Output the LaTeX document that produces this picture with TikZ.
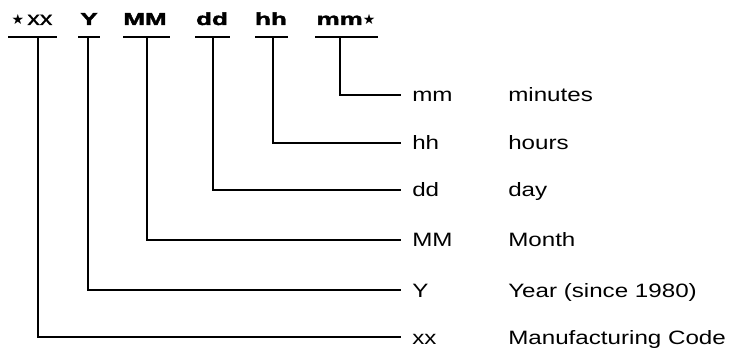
\documentclass[tikz,border=0pt]{standalone}
\usepackage{fontspec}
\setmainfont{Liberation Sans}[FakeStretch=1.25]
\newfontfamily\hdrfont{Liberation Sans}[FakeStretch=1.5,FakeBold=2.6,BoldFont={* Bold}]
\newfontfamily\xxfont{Liberation Sans}[FakeStretch=1.3,FakeBold=1.2]
\newfontfamily\symfont{DejaVu Sans}
\newcommand{\hstar}{{\symfont\fontsize{10.5}{12}\selectfont ★}}
\begin{document}
\begin{tikzpicture}[x=0.75pt,y=-0.75pt,
  ln/.style={line width=1.4pt},
  hdr/.style={font=\hdrfont\fontsize{13}{14}\selectfont\bfseries, inner sep=0pt, anchor=base},
  code/.style={font=\fontsize{14.5}{16}\selectfont, anchor=west, inner xsep=8.25pt, inner ysep=0pt, text height=10.5pt, text depth=0pt},
  desc/.style={font=\fontsize{14.5}{16}\selectfont, anchor=west, inner sep=0pt, text height=10.5pt, text depth=0pt}]
\useasboundingbox (0,0) rectangle (734,352);
% header labels
\node[inner sep=0pt, anchor=base, font=\xxfont\fontsize{14.5}{16}\selectfont] (t1) at (32,25) {\hstar\,xx};
\node[hdr] (t2) at (89,25) {Y};
\node[hdr] (t3) at (145,25) {MM};
\node[hdr] (t4) at (212,25) {dd};
\node[hdr] (t5) at (271,25) {hh};
\node[hdr] (t6) at (346,25) {mm{\mdseries\hstar}};
% underlines
\coordinate (a1) at (8,37);   \coordinate (b1) at (57,37);  \coordinate (v1) at (38,37);
\coordinate (a2) at (78,37);  \coordinate (b2) at (100,37); \coordinate (v2) at (88,37);
\coordinate (a3) at (123,37); \coordinate (b3) at (170,37); \coordinate (v3) at (147,37);
\coordinate (a4) at (195,37); \coordinate (b4) at (230,37); \coordinate (v4) at (213,37);
\coordinate (a5) at (255,37); \coordinate (b5) at (288,37); \coordinate (v5) at (273,37);
\coordinate (a6) at (315,37); \coordinate (b6) at (378,37); \coordinate (v6) at (340,37);
\foreach \i in {1,...,6} {\draw[ln] (a\i) -- (b\i);}
% codes and descriptions
\node[code] (c6) at (401,95)  {mm};  \node[desc] (d6) at (508,95)  {minutes};
\node[code] (c5) at (401,143) {hh};  \node[desc] (d5) at (508,143) {hours};
\node[code] (c4) at (401,190) {dd};  \node[desc] (d4) at (508,190) {day};
\node[code] (c3) at (401,240) {MM};  \node[desc] (d3) at (508,240) {Month};
\node[code] (c2) at (401,290) {Y};   \node[desc] (d2) at (508,290) {Year (since 1980)};
\node[code] (c1) at (401,337) {xx};  \node[desc] (d1) at (508,337) {Manufacturing Code};
% connectors
\foreach \i in {1,...,6} {\draw[ln] (v\i) |- (c\i.west);}
\end{tikzpicture}
\end{document}
